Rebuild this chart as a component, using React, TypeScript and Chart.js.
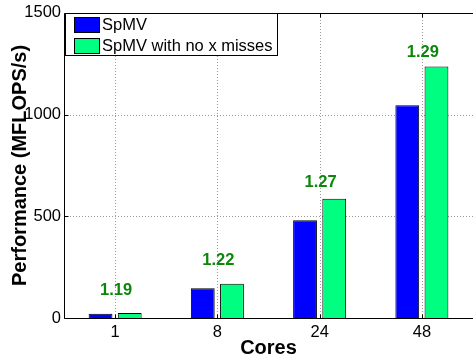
import React, { useEffect, useRef } from "react";
import { Chart, registerables } from "chart.js";

Chart.register(...registerables);

const categories = ["1", "8", "24", "48"];
const spmv = [21, 146, 481, 1046];
const spmvNoMiss = [24, 169, 586, 1237];
const speedupLabels = ["1.19", "1.22", "1.27", "1.29"];
const speedupLabelAt = [136, 282, 667, 1305];
const yTicks = [0, 500, 1000, 1500];

const FONT = "'Liberation Sans', Arial, Helvetica, sans-serif";

const gridPlugin = {
  id: "dottedGrid",
  beforeDatasetsDraw(chart: any) {
    const { ctx, chartArea, scales } = chart;
    const x = scales.x;
    const y = scales.y;
    ctx.save();
    ctx.strokeStyle = "#9a9a9a";
    ctx.lineWidth = 1;
    ctx.setLineDash([1, 2]);
    ctx.beginPath();
    categories.forEach((_, i) => {
      const px = Math.round(x.getPixelForValue(i)) + 0.5;
      ctx.moveTo(px, chartArea.bottom);
      ctx.lineTo(px, chartArea.top);
    });
    yTicks.forEach((v) => {
      if (v === 0 || v === 1500) return;
      const py = Math.round(y.getPixelForValue(v)) + 0.5;
      ctx.moveTo(chartArea.left, py);
      ctx.lineTo(chartArea.right + 2, py);
    });
    ctx.stroke();
    ctx.restore();
  },
};

const boxPlugin = {
  id: "boxAndLabels",
  afterDatasetsDraw(chart: any) {
    const { ctx, chartArea, scales } = chart;
    const x = scales.x;
    const y = scales.y;
    const L = Math.round(chartArea.left) + 0.5;
    const T = Math.round(chartArea.top) + 0.5;
    const B = Math.round(chartArea.bottom) + 0.5;
    const R = chartArea.right + 2;
    ctx.save();
    ctx.strokeStyle = "#000";
    ctx.lineWidth = 1;
    ctx.beginPath();
    ctx.moveTo(R, T);
    ctx.lineTo(L, T);
    ctx.lineTo(L, B);
    ctx.lineTo(R, B);
    ctx.stroke();
    // inner tick marks
    ctx.beginPath();
    categories.forEach((_, i) => {
      const px = Math.round(x.getPixelForValue(i)) + 0.5;
      ctx.moveTo(px, T);
      ctx.lineTo(px, T + 4);
      ctx.moveTo(px, B);
      ctx.lineTo(px, B - 4);
    });
    yTicks.forEach((v) => {
      const py = Math.round(y.getPixelForValue(v)) + 0.5;
      ctx.moveTo(L, py);
      ctx.lineTo(L + 4, py);
    });
    ctx.stroke();

    // speedup labels
    ctx.fillStyle = "#0b870b";
    ctx.font = `bold 16.5px ${FONT}`;
    ctx.textAlign = "center";
    ctx.textBaseline = "middle";
    speedupLabels.forEach((t, i) => {
      ctx.fillText(t, x.getPixelForValue(i) + 1, y.getPixelForValue(speedupLabelAt[i]));
    });

    // legend
    const ds = chart.data.datasets;
    ctx.fillStyle = "#fff";
    ctx.fillRect(65, 13, 213, 43);
    ctx.strokeStyle = "#000";
    ctx.strokeRect(65.5, 13.5, 212, 42);
    ctx.textAlign = "left";
    ctx.font = `16.5px ${FONT}`;
    ds.forEach((d: any, i: number) => {
      const top = 17 + i * 21;
      ctx.fillStyle = d.backgroundColor;
      ctx.fillRect(74, top, 26, 15);
      ctx.strokeStyle = "#000";
      ctx.strokeRect(74.5, top + 0.5, 25, 15);
      ctx.fillStyle = "#000";
      ctx.fillText(d.label, 102, top + 8);
    });
    ctx.restore();
  },
};

export default function App() {
  const ref = useRef<HTMLCanvasElement | null>(null);
  useEffect(() => {
    document.body.style.margin = "0";
    document.body.style.overflow = "hidden";
    const chart = new Chart(ref.current as HTMLCanvasElement, {
      type: "bar",
      data: {
        labels: categories,
        datasets: [
          {
            label: "SpMV",
            data: spmv,
            backgroundColor: "#0000ff",
            borderColor: "#000",
            borderWidth: 1,
            categoryPercentage: 0.571,
            barPercentage: 0.816,
          },
          {
            label: "SpMV with no x misses",
            data: spmvNoMiss,
            backgroundColor: "#00ff80",
            borderColor: "#000",
            borderWidth: 1,
            categoryPercentage: 0.571,
            barPercentage: 0.816,
          },
        ],
      },
      options: {
        responsive: false,
        animation: false,
        devicePixelRatio: 1,
        layout: { padding: { top: 10, right: 0, left: 0, bottom: 0 } },
        plugins: { legend: { display: false }, tooltip: { enabled: false } },
        scales: {
          x: {
            offset: true,
            grid: { display: false, drawTicks: false },
            border: { display: false },
            ticks: {
              color: "#000",
              padding: 5,
              font: { family: FONT, size: 16.5 },
            },
            title: {
              display: true,
              text: "Cores",
              color: "#000",
              font: { family: FONT, size: 20, weight: "bold", lineHeight: 1.2 },
              padding: { top: 0, bottom: 0 },
            },
            afterFit(scale: any) {
              scale.height = 42;
            },
          },
          y: {
            min: 0,
            max: 1500,
            afterBuildTicks(scale: any) {
              scale.ticks = yTicks.map((v) => ({ value: v }));
            },
            grid: { display: false, drawTicks: false },
            border: { display: false },
            ticks: {
              color: "#000",
              padding: 3,
              font: { family: FONT, size: 16.5 },
              callback: (v: any) => String(v),
            },
            title: {
              display: true,
              text: "Performance (MFLOPS/s)",
              color: "#000",
              font: { family: FONT, size: 20, weight: "bold", lineHeight: 1.2 },
              padding: { top: 8, bottom: 0 },
            },
            afterFit(scale: any) {
              scale.width = 64;
            },
          },
        },
      },
      plugins: [gridPlugin, boxPlugin],
    } as any);
    return () => chart.destroy();
  }, []);
  return (
    <div style={{ width: 473, height: 360, background: "#fff" }}>
      <canvas ref={ref} width={473} height={360} style={{ display: "block" }} />
    </div>
  );
}
